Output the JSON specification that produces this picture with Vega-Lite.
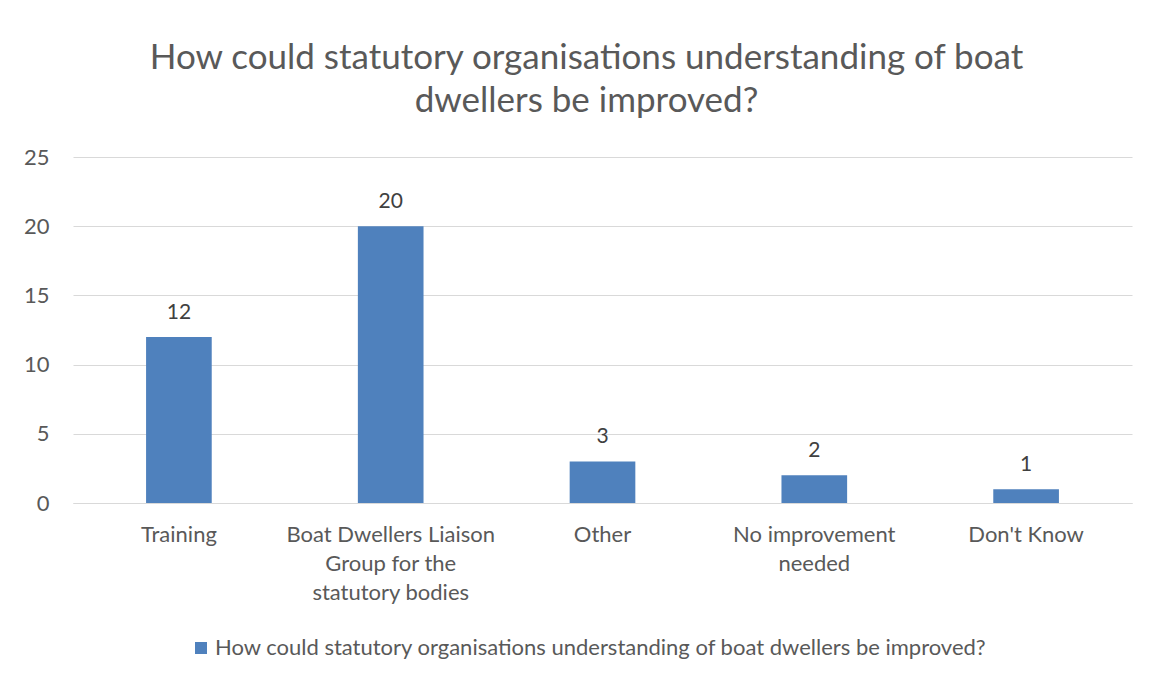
{
  "$schema": "https://vega.github.io/schema/vega-lite/v6.json",
  "width": 1059,
  "height": 346,
  "autosize": {"type": "none"},
  "padding": {"left": 73, "top": 157, "right": 18, "bottom": 174},
  "background": "white",
  "title": {
    "text": ["How could statutory organisations understanding of boat", "dwellers be improved?"],
    "font": "Lato",
    "fontSize": 35,
    "fontWeight": "normal",
    "color": "#595959",
    "lineHeight": 43,
    "anchor": "middle",
    "dx": -16,
    "offset": 27
  },
  "data": {
    "values": [
      {"category": "Training", "count": 12, "series": "How could statutory organisations understanding of boat dwellers be improved?"},
      {"category": "Boat Dwellers Liaison Group for the statutory bodies", "count": 20, "series": "How could statutory organisations understanding of boat dwellers be improved?"},
      {"category": "Other", "count": 3, "series": "How could statutory organisations understanding of boat dwellers be improved?"},
      {"category": "No improvement needed", "count": 2, "series": "How could statutory organisations understanding of boat dwellers be improved?"},
      {"category": "Don't Know", "count": 1, "series": "How could statutory organisations understanding of boat dwellers be improved?"}
    ]
  },
  "encoding": {
    "x": {
      "field": "category",
      "type": "nominal",
      "sort": null,
      "scale": {"paddingInner": 0.69, "paddingOuter": 0.345},
      "axis": {
        "title": null,
        "labelAngle": 0,
        "ticks": false,
        "domainColor": "#D9D9D9",
        "labelFont": "Lato",
        "labelFontSize": 22,
        "labelColor": "#595959",
        "labelPadding": 21,
        "labelLineHeight": 29,
        "labelBaseline": "top",
        "labelLimit": 400,
        "labelExpr": "datum.value == 'Boat Dwellers Liaison Group for the statutory bodies' ? ['Boat Dwellers Liaison', 'Group for the', 'statutory bodies'] : datum.value == 'No improvement needed' ? ['No improvement', 'needed'] : datum.value"
      }
    },
    "y": {
      "field": "count",
      "type": "quantitative",
      "scale": {"domain": [0, 25]},
      "axis": {
        "title": null,
        "values": [0, 5, 10, 15, 20, 25],
        "ticks": false,
        "domain": false,
        "gridColor": "#D9D9D9",
        "labelFont": "Lato",
        "labelFontSize": 22,
        "labelColor": "#595959",
        "labelPadding": 24
      }
    }
  },
  "layer": [
    {
      "mark": {"type": "bar", "color": "#4F81BD"},
      "encoding": {
        "color": {
          "field": "series",
          "type": "nominal",
          "scale": {"range": ["#4F81BD"]},
          "legend": {
            "title": null,
            "orient": "none",
            "legendX": 117,
            "legendY": 480,
            "symbolType": "square",
            "symbolSize": 144,
            "symbolStrokeWidth": 0,
            "labelFont": "Lato",
            "labelFontSize": 22,
            "labelColor": "#595959",
            "labelLimit": 1000,
            "labelOffset": 3
          }
        }
      }
    },
    {
      "mark": {"type": "text", "dy": -14, "baseline": "bottom", "font": "Lato", "fontSize": 21, "color": "#404040"},
      "encoding": {"text": {"field": "count", "type": "quantitative"}}
    }
  ],
  "config": {"view": {"stroke": null}}
}
